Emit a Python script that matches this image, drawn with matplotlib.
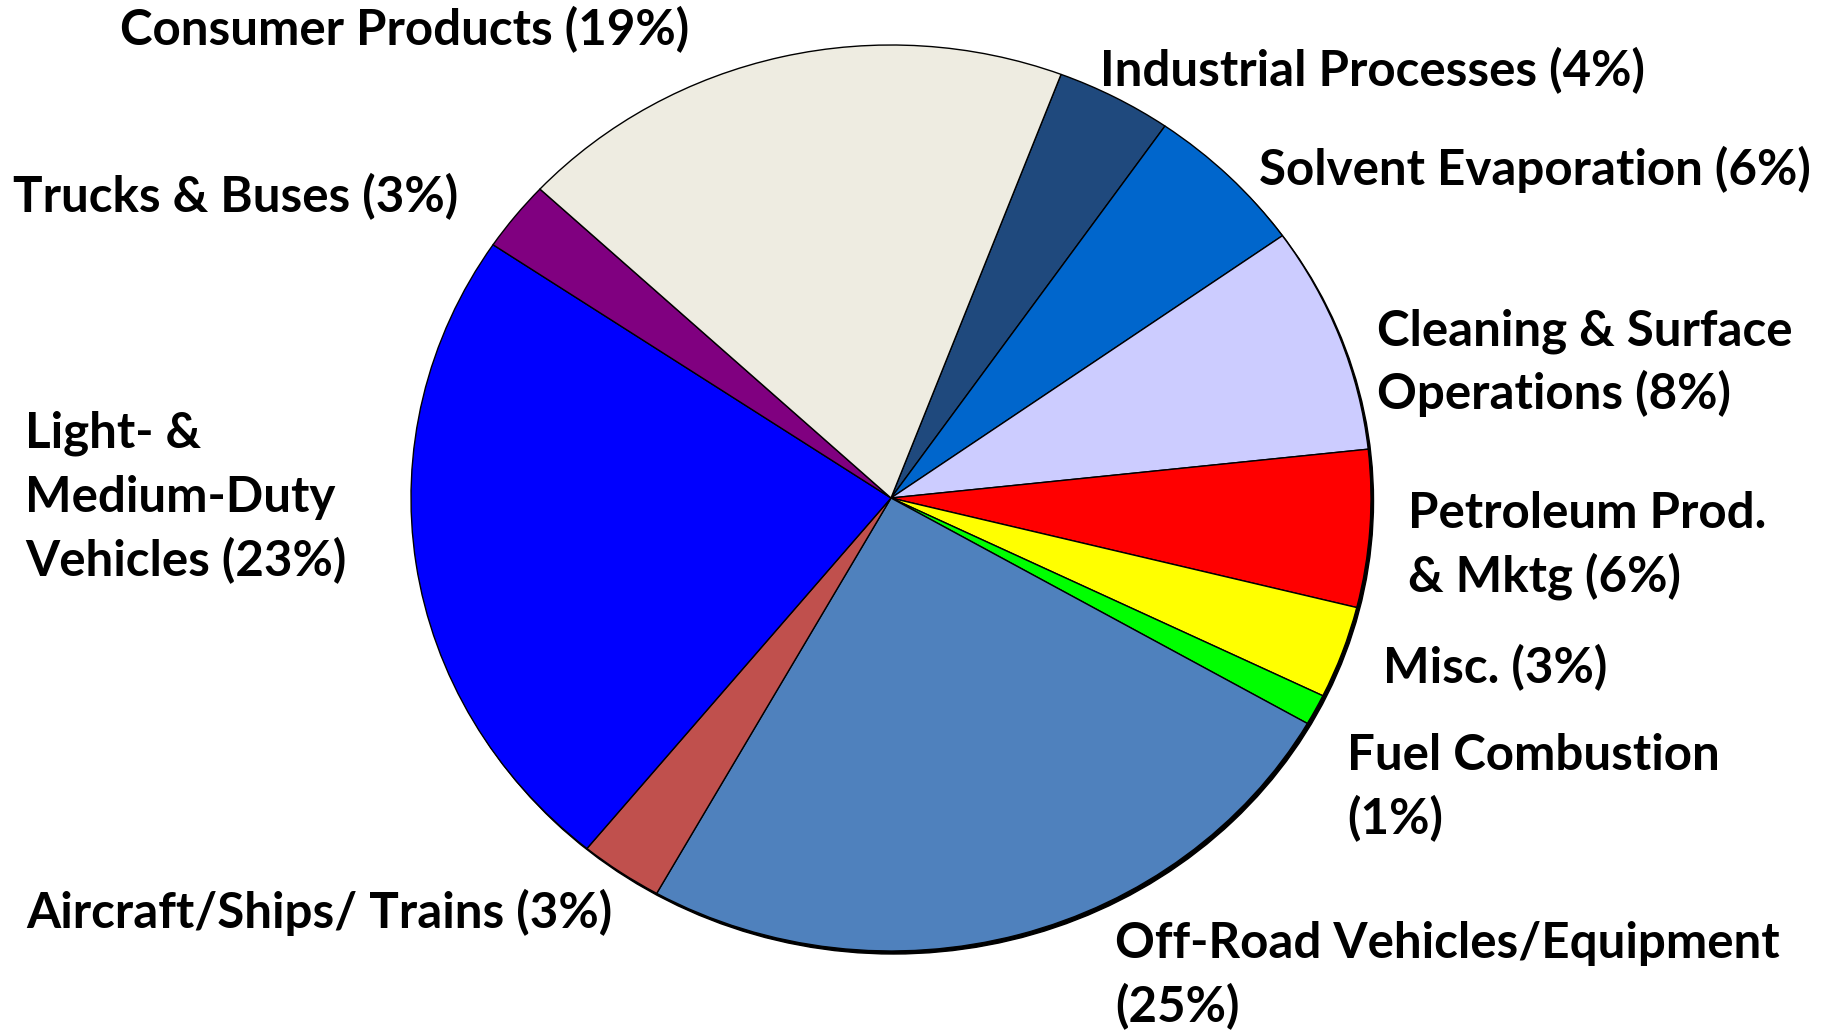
import matplotlib
matplotlib.use("Agg")
import matplotlib.pyplot as plt
from matplotlib.patches import Ellipse

# source categories, clockwise from the top
categories = ["Industrial Processes", "Solvent Evaporation", "Cleaning & Surface Operations",
              "Petroleum Prod. & Mktg", "Misc.", "Fuel Combustion",
              "Off-Road Vehicles/Equipment", "Aircraft/Ships/ Trains",
              "Light- & Medium-Duty Vehicles", "Trucks & Buses", "Consumer Products"]
# wedge sizes (percent)
shares = [3.9, 5.5, 8.1, 5.6, 3.3, 1.1, 24.8, 2.8, 23.5, 2.5, 18.8]
# percent printed in each label
label_pct = [4, 6, 8, 6, 3, 1, 25, 3, 23, 3, 19]
label_text = ["Industrial Processes ({}%)", "Solvent Evaporation ({}%)",
              "Cleaning & Surface\nOperations ({}%)", "Petroleum Prod.\n& Mktg ({}%)",
              "Misc. ({}%)", "Fuel Combustion\n({}%)",
              "Off-Road Vehicles/Equipment\n({}%)", "Aircraft/Ships/ Trains ({}%)",
              "Light- &\nMedium-Duty\nVehicles ({}%)", "Trucks & Buses ({}%)",
              "Consumer Products ({}%)"]
colors = ["#1F497D", "#0066CC", "#CCCCFF", "#FF0000", "#FFFF00", "#00FF00",
          "#4F81BD", "#C0504D", "#0000FF", "#800080", "#EEECE1"]

# label anchors in pixels: left x, first baseline y (from top)
label_pos = [(1100, 86), (1259, 185), (1377, 345), (1408, 528), (1383, 683),
             (1347, 770), (1115, 958), (26, 928), (25, 448), (13, 212), (120, 45)]
line_step = 64

W, H = 1825, 1031
fig = plt.figure(figsize=(W / 100, H / 100), dpi=100)

# pie is a bit wider than tall
cx, cy, rx, ry = 891, 498, 480, 453
pad = 1.05
ax = fig.add_axes([(cx - rx * pad) / W, (H - cy - ry * pad) / H,
                   2 * rx * pad / W, 2 * ry * pad / H])

# small drop shadow to the lower right
ax.add_patch(Ellipse((2.5 / rx, -3.0 / ry), 2, 2, color="black", zorder=0))
ax.pie(shares, colors=colors, startangle=69.25, counterclock=False,
       wedgeprops=dict(edgecolor="black", linewidth=1.0))
ax.set_aspect("auto")
ax.set_xlim(-pad, pad)
ax.set_ylim(-pad, pad)
ax.axis("off")

for txt, pct, (x, y) in zip(label_text, label_pct, label_pos):
    for i, line in enumerate(txt.format(pct).split("\n")):
        fig.text(x / W, 1 - (y + i * line_step) / H, line, family="Lato",
                 fontweight="bold", fontsize=35.5, ha="left", va="baseline")

fig.savefig("out.png", dpi=100, facecolor="white")
